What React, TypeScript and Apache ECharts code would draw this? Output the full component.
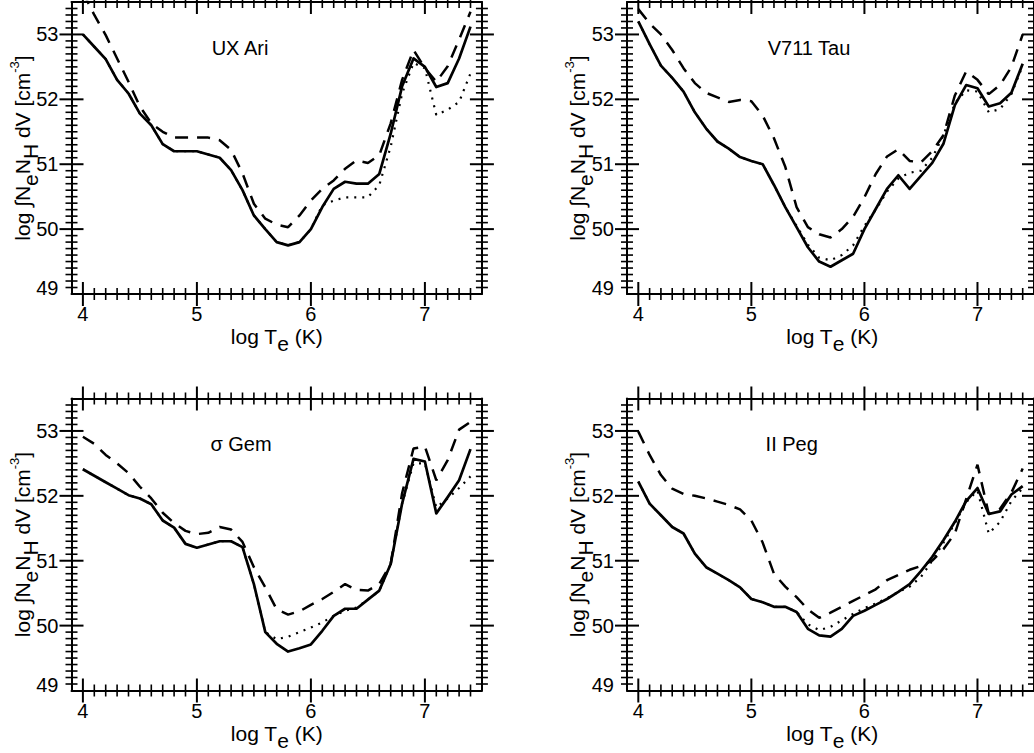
import React, { useEffect, useRef } from 'react';
import * as echarts from 'echarts';

// ---------------- data ----------------
const logT = [4.0, 4.1, 4.2, 4.3, 4.4, 4.5, 4.6, 4.7, 4.8, 4.9, 5.0, 5.1, 5.2, 5.3, 5.4, 5.5, 5.6, 5.7, 5.8, 5.9, 6.0, 6.1, 6.2, 6.3, 6.4, 6.5, 6.6, 6.7, 6.8, 6.9, 7.0, 7.1, 7.2, 7.3, 7.4];

const uxAriSolid = [53.0, 52.81, 52.62, 52.30, 52.09, 51.78, 51.60, 51.31, 51.20, 51.20, 51.20, 51.15, 51.10, 50.91, 50.60, 50.21, 50.00, 49.80, 49.75, 49.80, 50.00, 50.34, 50.62, 50.73, 50.70, 50.70, 50.85, 51.47, 52.20, 52.63, 52.50, 52.19, 52.25, 52.63, 53.12];
const uxAriDashed = [53.65, 53.30, 52.99, 52.63, 52.27, 51.89, 51.63, 51.50, 51.41, 51.41, 51.41, 51.41, 51.37, 51.22, 50.86, 50.39, 50.16, 50.07, 50.03, 50.21, 50.44, 50.62, 50.75, 50.93, 51.06, 51.02, 51.14, 51.63, 52.30, 52.76, 52.48, 52.27, 52.51, 52.92, 53.35];
const uxAriDotted = [53.0, 52.81, 52.62, 52.30, 52.09, 51.78, 51.60, 51.31, 51.20, 51.20, 51.20, 51.15, 51.10, 50.91, 50.60, 50.21, 50.00, 49.80, 49.75, 49.80, 50.00, 50.37, 50.44, 50.49, 50.49, 50.49, 50.68, 51.27, 52.09, 52.56, 52.48, 51.76, 51.84, 51.96, 52.40];

const v711TauSolid = [53.20, 52.85, 52.52, 52.33, 52.12, 51.80, 51.55, 51.35, 51.24, 51.11, 51.05, 51.00, 50.68, 50.34, 50.03, 49.72, 49.50, 49.42, 49.52, 49.62, 50.00, 50.31, 50.62, 50.83, 50.62, 50.82, 51.02, 51.32, 51.91, 52.22, 52.17, 51.89, 51.94, 52.10, 52.55];
const v711TauDashed = [53.39, 53.17, 53.00, 52.76, 52.48, 52.25, 52.10, 52.03, 51.96, 51.99, 51.97, 51.75, 51.40, 50.96, 50.34, 50.03, 49.92, 49.87, 50.00, 50.19, 50.49, 50.85, 51.12, 51.23, 51.05, 51.03, 51.20, 51.45, 52.06, 52.43, 52.30, 52.08, 52.22, 52.50, 53.00];
const v711TauDotted = [53.20, 52.85, 52.52, 52.33, 52.12, 51.80, 51.55, 51.35, 51.24, 51.11, 51.05, 51.00, 50.68, 50.34, 50.05, 49.76, 49.56, 49.52, 49.60, 49.75, 50.05, 50.30, 50.58, 50.78, 50.87, 50.90, 51.10, 51.45, 51.94, 52.14, 52.12, 51.80, 51.85, 52.08, 52.52];

const sigmaGemSolid = [52.41, 52.31, 52.21, 52.11, 52.01, 51.96, 51.87, 51.62, 51.51, 51.26, 51.20, 51.25, 51.30, 51.30, 51.21, 50.64, 49.90, 49.72, 49.60, 49.65, 49.71, 49.92, 50.15, 50.26, 50.26, 50.40, 50.54, 50.95, 51.88, 52.57, 52.53, 51.73, 51.98, 52.24, 52.72];
const sigmaGemDashed = [52.91, 52.80, 52.63, 52.50, 52.35, 52.14, 51.96, 51.74, 51.58, 51.46, 51.41, 51.43, 51.52, 51.48, 51.29, 50.90, 50.59, 50.25, 50.17, 50.22, 50.32, 50.41, 50.52, 50.64, 50.55, 50.54, 50.64, 50.95, 52.04, 52.73, 52.76, 52.24, 52.55, 53.02, 53.14];
const sigmaGemDotted = [52.41, 52.31, 52.21, 52.11, 52.01, 51.96, 51.87, 51.62, 51.51, 51.26, 51.20, 51.25, 51.30, 51.30, 51.21, 50.64, 49.90, 49.79, 49.83, 49.90, 49.97, 50.05, 50.15, 50.23, 50.28, 50.40, 50.54, 50.95, 51.88, 52.50, 52.50, 51.82, 51.96, 52.12, 52.30];

const iiPegSolid = [52.22, 51.88, 51.70, 51.52, 51.42, 51.11, 50.90, 50.80, 50.70, 50.59, 50.41, 50.36, 50.29, 50.29, 50.21, 49.95, 49.85, 49.83, 49.95, 50.15, 50.23, 50.32, 50.41, 50.52, 50.64, 50.84, 51.06, 51.32, 51.60, 51.92, 52.12, 51.72, 51.76, 52.02, 52.15];
const iiPegDashed = [52.99, 52.63, 52.32, 52.11, 52.03, 52.00, 51.96, 51.91, 51.86, 51.79, 51.62, 51.28, 50.80, 50.60, 50.44, 50.25, 50.12, 50.20, 50.29, 50.38, 50.47, 50.56, 50.70, 50.78, 50.86, 50.92, 51.00, 51.18, 51.42, 51.95, 52.48, 51.72, 51.80, 52.05, 52.42];
const iiPegDotted = [52.22, 51.88, 51.70, 51.52, 51.42, 51.11, 50.90, 50.80, 50.70, 50.59, 50.41, 50.36, 50.29, 50.29, 50.21, 50.02, 49.93, 49.98, 50.08, 50.18, 50.27, 50.34, 50.42, 50.52, 50.60, 50.75, 51.00, 51.28, 51.58, 51.90, 52.08, 51.42, 51.60, 51.92, 52.12];

const starNames = ['UX Ari', 'V711 Tau', 'σ Gem', 'II Peg'];
const solidSeries = [uxAriSolid, v711TauSolid, sigmaGemSolid, iiPegSolid];
const dashedSeries = [uxAriDashed, v711TauDashed, sigmaGemDashed, iiPegDashed];
const dottedSeries = [uxAriDotted, v711TauDotted, sigmaGemDotted, iiPegDotted];

const xMajorTicks = [4, 5, 6, 7];
const yMajorTicks = [49, 50, 51, 52, 53];
const X_MIN = 3.9;
const X_MAX = 7.5;
const Y_MIN = 49;
const Y_MAX = 53.5;

// tick positions every 0.1 along each axis: [x, y] pairs on the bottom and left edges
const xTickPairs: number[][] = [];
for (let i = 40; i <= 74; i++) xTickPairs.push([i / 10, Y_MIN]);
const yTickPairs: number[][] = [];
for (let i = 491; i <= 534; i++) yTickPairs.push([X_MIN, i / 10]);
const isWhole = (v: number) => Math.abs(v - Math.round(v)) < 1e-6;

// ---------------- layout ----------------
const FONT = '"Liberation Sans", Arial, Helvetica, sans-serif';
const GW = 410.4;
const GH = 292;
const layout = [
  { left: 71.5, top: 2, titleDx: 168.5 },
  { left: 627, top: 2, titleDx: 182 },
  { left: 71.5, top: 398.5, titleDx: 169.5 },
  { left: 627, top: 398.5, titleDx: 164.7 },
];

const BLACK = '#000';
const MAJOR_LEN = 12;
const MINOR_LEN = 6;

function buildOption() {
  const grid: any[] = [];
  const xAxis: any[] = [];
  const yAxis: any[] = [];
  const series: any[] = [];
  const graphic: any[] = [];

  const axisLine = { show: true, onZero: false, lineStyle: { color: BLACK, width: 2 } };
  const toPairs = (arr: number[]) => logT.map((x, i) => [x, arr[i]]);

  layout.forEach((L, k) => {
    grid.push({ left: L.left, top: L.top, width: GW, height: GH, containLabel: false });

    xAxis.push({
      type: 'value', gridIndex: k, min: X_MIN, max: X_MAX, position: 'bottom',
      splitLine: { show: false }, axisTick: { show: false }, axisLine,
      axisLabel: { show: true, customValues: xMajorTicks, margin: 10, color: BLACK, fontSize: 20, fontFamily: FONT },
    });
    xAxis.push({
      type: 'value', gridIndex: k, min: X_MIN, max: X_MAX, position: 'top',
      splitLine: { show: false }, axisTick: { show: false }, axisLabel: { show: false }, axisLine,
    });
    yAxis.push({
      type: 'value', gridIndex: k, min: Y_MIN, max: Y_MAX, position: 'left',
      splitLine: { show: false }, axisTick: { show: false }, axisLine,
      axisLabel: {
        show: true, customValues: yMajorTicks, margin: 13, color: BLACK, fontSize: 20, fontFamily: FONT,
        formatter: (v: number) => (Math.abs(v - Y_MIN) < 1e-6 ? '{lo|' + v + '}' : '{n|' + v + '}'),
        rich: {
          n: { fontSize: 20, fontFamily: FONT, color: BLACK },
          lo: { fontSize: 20, fontFamily: FONT, color: BLACK, padding: [0, 0, 12, 0] },
        },
      },
    });
    yAxis.push({
      type: 'value', gridIndex: k, min: Y_MIN, max: Y_MAX, position: 'right',
      splitLine: { show: false }, axisTick: { show: false }, axisLabel: { show: false }, axisLine,
    });

    const xi = 2 * k;
    const yi = 2 * k;

    // tick marks drawn as rectangular symbols of scatter series on each edge
    const tickCommon = { type: 'scatter', xAxisIndex: xi, yAxisIndex: yi, silent: true, clip: false, z: 6, itemStyle: { color: BLACK, opacity: 1 } };
    series.push({
      ...tickCommon, name: 'x ticks bottom ' + k, data: xTickPairs,
      symbol: 'rect',
      symbolSize: (v: number[]) => (isWhole(v[0]) ? [2, MAJOR_LEN * 2] : [1.6, MINOR_LEN * 2]),
    });
    series.push({
      ...tickCommon, name: 'x ticks top ' + k, data: xTickPairs.map((p) => [p[0], Y_MAX]),
      symbol: 'rect',
      symbolSize: (v: number[]) => (isWhole(v[0]) ? [2, MAJOR_LEN * 2] : [1.6, MINOR_LEN * 2]),
    });
    series.push({
      ...tickCommon, name: 'y ticks left ' + k, data: yTickPairs,
      symbol: 'rect',
      symbolSize: (v: number[]) => (isWhole(v[1]) ? [MAJOR_LEN * 2, 2] : [MINOR_LEN * 2, 1.6]),
    });
    series.push({
      ...tickCommon, name: 'y ticks right ' + k, data: yTickPairs.map((p) => [X_MAX, p[1]]),
      symbol: 'rect',
      symbolSize: (v: number[]) => (isWhole(v[1]) ? [MAJOR_LEN * 2, 2] : [MINOR_LEN * 2, 1.6]),
    });

    const common = { type: 'line', xAxisIndex: xi, yAxisIndex: yi, showSymbol: false, symbol: 'none', silent: true, clip: true };
    series.push({ ...common, name: starNames[k] + ' dotted', data: toPairs(dottedSeries[k]), lineStyle: { color: BLACK, width: 2.2, type: [2, 6], cap: 'butt' }, z: 3 });
    series.push({ ...common, name: starNames[k] + ' dashed', data: toPairs(dashedSeries[k]), lineStyle: { color: BLACK, width: 2.5, type: [13, 9], cap: 'butt' }, z: 4 });
    series.push({ ...common, name: starNames[k] + ' solid', data: toPairs(solidSeries[k]), lineStyle: { color: BLACK, width: 2.7, type: 'solid', join: 'round' }, z: 5 });

    // star name
    graphic.push({
      type: 'text', x: L.left + L.titleDx, y: L.top + 45.5, silent: true, z: 100,
      style: { text: starNames[k], fill: BLACK, fontSize: 20, fontFamily: FONT, align: 'center', verticalAlign: 'middle' },
    });
    // x axis title
    graphic.push({
      type: 'text', x: L.left + GW / 2, y: L.top + GH + 42.5, silent: true, z: 100,
      style: {
        text: '{a|log T}{s|e}{a| (K)}', fill: BLACK, fontSize: 21, fontFamily: FONT, align: 'center', verticalAlign: 'middle',
        rich: {
          a: { fontSize: 21, fontFamily: FONT, fill: BLACK },
          s: { fontSize: 21, fontFamily: FONT, fill: BLACK, padding: [14, 0, 0, 0] },
        },
      },
    });
    // y axis title
    graphic.push({
      type: 'text', x: L.left - 49.5, y: L.top + GH / 2, rotation: Math.PI / 2, silent: true, z: 100,
      style: {
        text: '{a|log ∫N}{s|e}{a|N}{s|H}{a| dV [cm}{p|-3}{a|]}', fill: BLACK, fontSize: 21, fontFamily: FONT, align: 'center', verticalAlign: 'middle',
        rich: {
          a: { fontSize: 21, fontFamily: FONT, fill: BLACK },
          s: { fontSize: 21, fontFamily: FONT, fill: BLACK, padding: [16, 0, 0, 0] },
          p: { fontSize: 13, fontFamily: FONT, fill: BLACK, padding: [0, 0, 16, 0] },
        },
      },
    });
  });

  return {
    animation: false,
    backgroundColor: '#fff',
    grid, xAxis, yAxis, series, graphic,
  };
}

export default function App() {
  const ref = useRef<HTMLDivElement>(null);
  useEffect(() => {
    if (!ref.current) return;
    const chart = echarts.init(ref.current, undefined, { renderer: 'svg' });
    chart.setOption(buildOption() as any);
    return () => chart.dispose();
  }, []);
  return (
    <div
      ref={ref}
      style={{ position: 'fixed', left: 0, top: 0, width: 1034, height: 753, background: '#fff' }}
    />
  );
}
